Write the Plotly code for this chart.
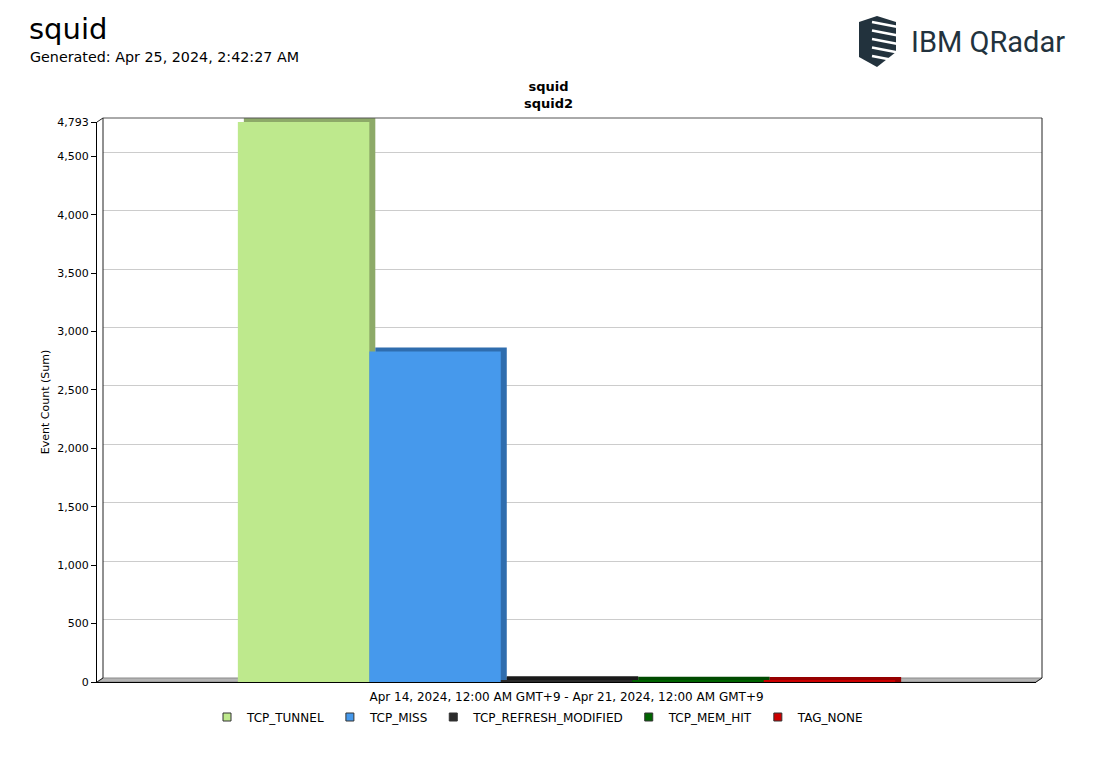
import plotly.graph_objects as go

# ---------------- data ----------------
series = ["TCP_TUNNEL", "TCP_MISS", "TCP_REFRESH_MODIFIED", "TCP_MEM_HIT", "TAG_NONE"]
values = [4793, 2828, 14, 11, 9]
category = ["Apr 14, 2024, 12:00 AM GMT+9 - Apr 21, 2024, 12:00 AM GMT+9"]
front_colors = ["#BEE98D", "#4699EC", "#2B2B2B", "#006400", "#CC0000"]
side_colors = ["#8DAA68", "#2F6DAE", "#1A1A1A", "#004A00", "#960000"]
ytick_vals = [0, 500, 1000, 1500, 2000, 2500, 3000, 3500, 4000, 4500, 4793]
grid_vals = [500, 1000, 1500, 2000, 2500, 3000, 3500, 4000, 4500]
y_max = 4793

# ---------------- geometry (page pixels; page body has an 8px margin) ----------------
OFF = 8
W_FIG, H_FIG = 1108 - OFF, 775 - OFF
L, R, T, B = 97, 1042, 118, 682
PW, PH = R - L, B - T
DX, DY = 6, 4  # 3D depth offset
FRONT_W = PW - DX
FRONT_H = PH - DY
DEPTH = DY * y_max / FRONT_H  # depth in data units


def px_x(px):
    return (px - L) / PW


def px_y(py):
    return (B - py) / PH


FONT = "DejaVu Sans"

fig = go.Figure()

# back (side / top) faces
for name, v, c in zip(series, values, side_colors):
    fig.add_trace(go.Bar(
        x=category, y=[v + DEPTH], base=[-DEPTH], name=name,
        marker=dict(color=c, line=dict(width=0)),
        xaxis="x", yaxis="y", showlegend=False, hoverinfo="skip"))

# front faces
for name, v, c in zip(series, values, front_colors):
    fig.add_trace(go.Bar(
        x=category, y=[v], name=name,
        marker=dict(color=c, line=dict(width=0)),
        xaxis="x2", yaxis="y2", showlegend=False))

# legend entries
for name, c in zip(series, front_colors):
    fig.add_trace(go.Scatter(
        x=[None], y=[None], mode="markers", name=name,
        marker=dict(symbol="square", size=8, color=c, line=dict(color="#333333", width=1)),
        xaxis="x2", yaxis="y2"))

shapes = []
# floor
floor_path = "M {},{} L {},{} L {},{} L {},{} Z".format(
    px_x(L), px_y(B), px_x(L + DX), px_y(B - DY),
    px_x(R), px_y(B - DY), px_x(R - DX), px_y(B))
shapes.append(dict(type="path", xref="paper", yref="paper", path=floor_path,
                   fillcolor="#B4B4B4", line=dict(color="#8A8A8A", width=1), layer="below"))


def seg(x0, y0, x1, y1, color="#222222", layer="above", width=1):
    shapes.append(dict(type="line", xref="paper", yref="paper",
                       x0=px_x(x0), y0=px_y(y0), x1=px_x(x1), y1=px_y(y1),
                       line=dict(color=color, width=width), layer=layer))


seg(L + DX, T, R, T, color="#555555")
seg(R, T, R, B - DY)
seg(L, T + DY, L + DX, T)
seg(L + DX, T, L + DX, B - DY)
seg(R - DX, B, R, B - DY)
seg(L, B, L + DX, B - DY)

# logo shield
shield = "M {},{} L {},{} L {},{} L {},{} L {},{} L {},{} Z".format(
    px_x(859), px_y(22), px_x(877), px_y(16), px_x(896), px_y(22),
    px_x(896), px_y(52), px_x(877), px_y(67), px_x(859), px_y(57))
shapes.append(dict(type="path", xref="paper", yref="paper", path=shield,
                   fillcolor="#22323D", line=dict(width=0), layer="above"))
for i in range(5):
    y0 = 22 + i * 8.5
    seg(872, y0, 898, y0 + 5, color="white", width=2.6)

annotations = [
    dict(text="squid", x=px_x(27), y=px_y(10), xref="paper", yref="paper",
         xanchor="left", yanchor="top", showarrow=False,
         font=dict(family=FONT, size=29, color="#000000")),
    dict(text="Generated: Apr 25, 2024, 2:42:27 AM", x=px_x(28), y=px_y(57),
         xref="paper", yref="paper", xanchor="left", yanchor="middle", showarrow=False,
         font=dict(family=FONT, size=14.3, color="#000000")),
    dict(text="<b>squid</b><br><b>squid2</b>", x=px_x(548), y=px_y(95),
         xref="paper", yref="paper", xanchor="center", yanchor="middle", showarrow=False,
         font=dict(family=FONT, size=13, color="#000000")),
    dict(text="IBM QRadar", x=px_x(909), y=px_y(42), xref="paper", yref="paper",
         xanchor="left", yanchor="middle", showarrow=False,
         font=dict(family="Roboto", size=29, color="#22323D")),
]

fig.update_layout(
    width=W_FIG, height=H_FIG,
    margin=dict(l=L - OFF, r=1108 - R, t=T - OFF, b=775 - B, pad=0),
    paper_bgcolor="white", plot_bgcolor="rgba(0,0,0,0)",
    barmode="group", bargap=0.3, bargroupgap=0,
    font=dict(family=FONT, size=12, color="#000000"),
    xaxis=dict(domain=[DX / PW, 1], range=[-0.5, 0.5], type="category", visible=False,
               anchor="y"),
    yaxis=dict(domain=[0, 1], range=[-DEPTH, y_max], tickvals=grid_vals, showgrid=True,
               gridcolor="#CCCCCC", gridwidth=1, showticklabels=False, ticks="",
               zeroline=False, showline=False, anchor="x"),
    xaxis2=dict(domain=[0, FRONT_W / PW], range=[-0.5, 0.5], type="category", anchor="y2",
                showline=True, linecolor="#000000", linewidth=1, ticks="", showgrid=False,
                zeroline=False, tickfont=dict(family=FONT, size=12), ticklabelstandoff=4),
    yaxis2=dict(domain=[0, FRONT_H / PH], range=[0, y_max], anchor="x2",
                tickvals=ytick_vals, tickformat=",", ticks="outside", ticklen=5,
                tickcolor="#000000", showline=True, linecolor="#000000", linewidth=1,
                showgrid=False, zeroline=False, tickfont=dict(family=FONT, size=11),
                title=dict(text="Event Count (Sum)", font=dict(family=FONT, size=11),
                           standoff=5)),
    showlegend=True,
    legend=dict(orientation="h", x=px_x(538), xanchor="center", y=px_y(717),
                yanchor="middle", font=dict(family=FONT, size=12), itemwidth=30,
                bgcolor="rgba(0,0,0,0)", tracegroupgap=0),
    shapes=shapes,
    annotations=annotations,
)

fig.write_html("out.html")
